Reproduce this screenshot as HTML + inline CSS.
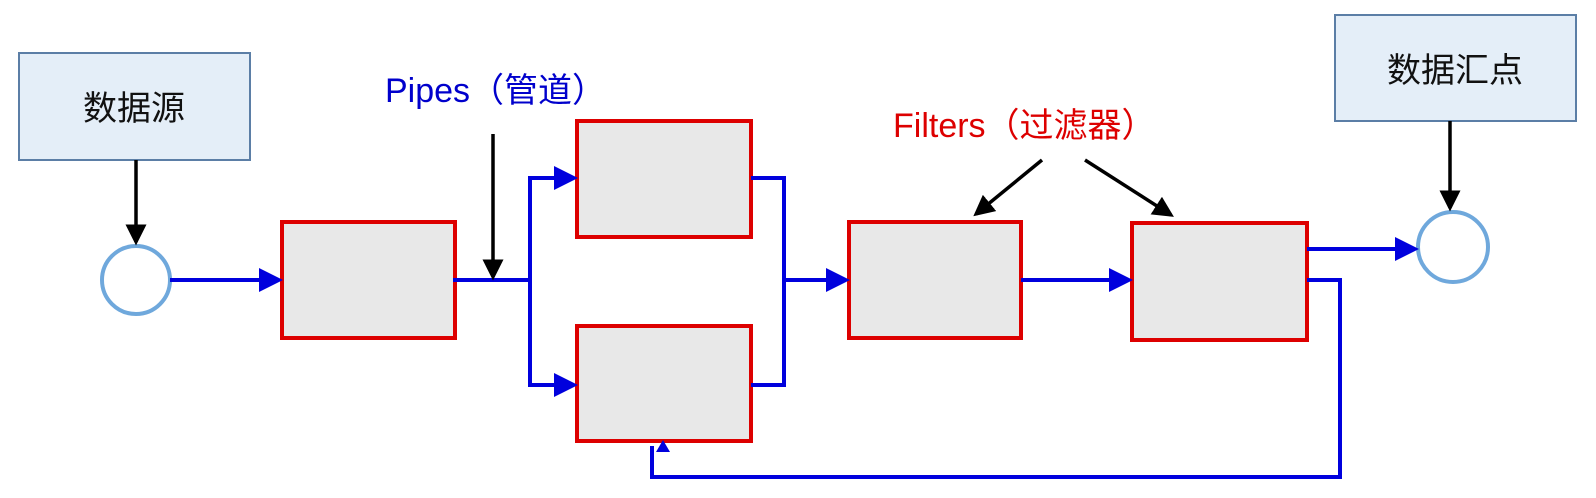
<!DOCTYPE html>
<html><head><meta charset="utf-8"><style>
html,body{margin:0;padding:0;background:#fff;width:1596px;height:498px;overflow:hidden}
svg{display:block}
text{font-family:"Liberation Sans","Noto Sans CJK SC",sans-serif}
</style></head><body>
<svg width="1596" height="498" viewBox="0 0 1596 498" xmlns="http://www.w3.org/2000/svg">
<defs>
<marker id="bA" markerWidth="6" markerHeight="6" refX="5" refY="3" orient="auto" markerUnits="strokeWidth"><path d="M0,0 L6,3 L0,6 z" fill="#0000dd"/></marker>
<marker id="kA" markerWidth="6" markerHeight="6" refX="5" refY="3" orient="auto" markerUnits="strokeWidth"><path d="M0,0 L6,3 L0,6 z" fill="#000"/></marker>
</defs>
<!-- source/sink boxes -->
<rect x="19" y="53" width="231" height="107" fill="#e4eef8" stroke="#5b7ea6" stroke-width="2"/>
<text x="134" y="120" font-size="34" text-anchor="middle" fill="#111">数据源</text>
<rect x="1335" y="15" width="241" height="106" fill="#e4eef8" stroke="#5b7ea6" stroke-width="2"/>
<text x="1455" y="82" font-size="34" text-anchor="middle" fill="#111">数据汇点</text>
<!-- circles -->
<circle cx="136" cy="280" r="34" fill="#fff" stroke="#6fa8dc" stroke-width="4"/>
<circle cx="1453" cy="247" r="35" fill="#fff" stroke="#6fa8dc" stroke-width="4"/>
<!-- filters -->
<g fill="#e8e8e8" stroke="#dd0000" stroke-width="4">
<rect x="282" y="222" width="173" height="116"/>
<rect x="577" y="121" width="174" height="116"/>
<rect x="577" y="326" width="174" height="115"/>
<rect x="849" y="222" width="172" height="116"/>
<rect x="1132" y="223" width="175" height="117"/>
</g>
<!-- blue pipes -->
<g fill="none" stroke="#0000dd" stroke-width="4">
<line x1="170" y1="280" x2="279" y2="280" marker-end="url(#bA)"/>
<polyline points="453,280 530,280"/>
<polyline points="530,280 530,178 574,178" marker-end="url(#bA)"/>
<polyline points="530,280 530,385 574,385" marker-end="url(#bA)"/>
<polyline points="751,178 784,178 784,385 751,385"/>
<line x1="782" y1="280" x2="846" y2="280" marker-end="url(#bA)"/>
<line x1="1021" y1="280" x2="1129" y2="280" marker-end="url(#bA)"/>
<line x1="1307" y1="249" x2="1415" y2="249" marker-end="url(#bA)"/>
<polyline points="1307,280 1340,280 1340,477 652,477 652,446"/>
</g>
<path d="M656,452 L663,440 L670,452 z" fill="#0000dd"/>
<!-- black arrows -->
<g stroke="#000" stroke-width="3.5" fill="none">
<line x1="136" y1="160" x2="136" y2="242" marker-end="url(#kA)"/>
<line x1="493" y1="134" x2="493" y2="277" marker-end="url(#kA)"/>
<line x1="1042" y1="160" x2="976" y2="214" marker-end="url(#kA)"/>
<line x1="1085" y1="160" x2="1171" y2="215" marker-end="url(#kA)"/>
<line x1="1450" y1="121" x2="1450" y2="208" marker-end="url(#kA)"/>
</g>
<!-- labels -->
<text x="385" y="102" font-size="34" fill="#0000cc">Pipes（管道）</text>
<text x="893" y="137" font-size="34" fill="#dd0000">Filters（过滤器）</text>
</svg>
</body></html>
